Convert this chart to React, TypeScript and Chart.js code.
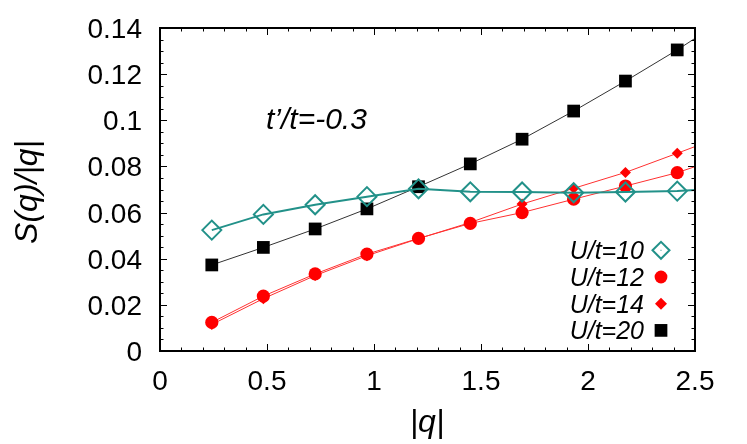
import React, { useEffect, useRef } from "react";
import { Chart, registerables } from "chart.js";

Chart.register(...registerables);

// |q| values of the data points
const Q = [0.242, 0.483, 0.725, 0.967, 1.208, 1.45, 1.692, 1.933, 2.175, 2.417];
// S(q)/|q| for each U/t
const U10 = [0.0524, 0.0592, 0.0634, 0.0669, 0.0703, 0.069, 0.0689, 0.0686, 0.0689, 0.0693];
const U12 = [0.0124, 0.0238, 0.0334, 0.042, 0.0488, 0.0553, 0.06, 0.0658, 0.0715, 0.0773];
const U14 = [0.0115, 0.0227, 0.0327, 0.0413, 0.0487, 0.0557, 0.0637, 0.0705, 0.0774, 0.0857];
const U20 = [0.0373, 0.0449, 0.0529, 0.0616, 0.0712, 0.0811, 0.0918, 0.104, 0.117, 0.1305];
// fitted curves continue to the right edge
const Q_END = 2.5;
const U10_END = 0.0698;
const U12_END = 0.0799;
const U14_END = 0.0886;
const U20_END = 0.1355;

const X_TICKS = [0, 0.5, 1, 1.5, 2, 2.5];
const X_TICK_LABELS = ["0", "0.5", "1", "1.5", "2", "2.5"];
const Y_TICKS = [0, 0.02, 0.04, 0.06, 0.08, 0.1, 0.12, 0.14];
const Y_TICK_LABELS = ["0", "0.02", "0.04", "0.06", "0.08", "0.1", "0.12", "0.14"];
const LEGEND_LABELS = ["U/t=10", "U/t=12", "U/t=14", "U/t=20"];

const TEAL = "#229189";
const RED = "#ff0000";
const BLACK = "#000000";
const FONT = "'Liberation Sans', Arial, Helvetica, sans-serif";

function pts(vals: number[], end: number) {
  const a = Q.map((q, i) => ({ x: q, y: vals[i] }));
  a.push({ x: Q_END, y: end });
  return a;
}
function radii(r: number) {
  const a = Q.map(() => r);
  a.push(0);
  return a;
}

function drawMarker(ctx: CanvasRenderingContext2D, kind: string, x: number, y: number, r: number, color: string) {
  ctx.save();
  ctx.beginPath();
  if (kind === "diamondOpen" || kind === "diamond") {
    ctx.moveTo(x - r, y);
    ctx.lineTo(x, y - r);
    ctx.lineTo(x + r, y);
    ctx.lineTo(x, y + r);
    ctx.closePath();
  } else if (kind === "circle") {
    ctx.arc(x, y, r, 0, Math.PI * 2);
  } else {
    const s = r * Math.SQRT1_2;
    ctx.rect(x - s, y - s, 2 * s, 2 * s);
  }
  if (kind === "diamondOpen") {
    ctx.strokeStyle = color;
    ctx.lineWidth = 2;
    ctx.stroke();
    ctx.fillStyle = color;
    ctx.fillRect(x - 0.5, y - 0.5, 1, 1);
  } else {
    ctx.fillStyle = color;
    ctx.fill();
  }
  ctx.restore();
}

const framePlugin = {
  id: "gnuFrame",
  afterDraw(chart: any) {
    const { ctx, chartArea } = chart;
    const { left, right, top, bottom } = chartArea;
    const xs = chart.scales.x;
    const ys = chart.scales.y;
    ctx.save();
    // ticks (inward, mirrored)
    ctx.strokeStyle = "#000";
    ctx.lineWidth = 1;
    ctx.beginPath();
    for (let i = 0; i <= 25; i++) {
      const v = i * 0.1;
      const px = Math.round(xs.getPixelForValue(v)) + 0.5;
      const len = i % 5 === 0 ? 7 : 3.5;
      ctx.moveTo(px, bottom);
      ctx.lineTo(px, bottom - len);
      ctx.moveTo(px, top);
      ctx.lineTo(px, top + len);
    }
    for (let i = 0; i <= 28; i++) {
      const v = i * 0.005;
      const py = Math.round(ys.getPixelForValue(v)) + 0.5;
      const len = i % 4 === 0 ? 7 : 3.5;
      ctx.moveTo(left, py);
      ctx.lineTo(left + len, py);
      ctx.moveTo(right, py);
      ctx.lineTo(right - len, py);
    }
    ctx.stroke();
    // frame
    ctx.lineWidth = 2;
    ctx.strokeRect(left, top, right - left, bottom - top);

    // tick labels
    ctx.fillStyle = "#000";
    ctx.font = `28px ${FONT}`;
    ctx.textBaseline = "alphabetic";
    ctx.textAlign = "right";
    Y_TICKS.forEach((v, i) => {
      ctx.fillText(Y_TICK_LABELS[i], 142, ys.getPixelForValue(v) + 10);
    });
    ctx.textAlign = "center";
    X_TICKS.forEach((v, i) => {
      ctx.fillText(X_TICK_LABELS[i], xs.getPixelForValue(v), 390);
    });

    // axis titles
    ctx.font = `italic 32px ${FONT}`;
    ctx.textAlign = "center";
    ctx.fillText("|q|", 427, 432);
    ctx.save();
    ctx.translate(37, 192);
    ctx.rotate(-Math.PI / 2);
    ctx.fillText("S(q)/|q|", 0, 0);
    ctx.restore();

    // annotation
    ctx.font = `italic 30px ${FONT}`;
    ctx.textAlign = "left";
    ctx.fillText("t\u2019/t=-0.3", 266, 129);

    // legend
    const rowsY = [250.3, 277, 303.7, 330.4];
    const kinds = ["diamondOpen", "circle", "diamond", "square"];
    const colors = [TEAL, RED, RED, BLACK];
    const sizes = [8.5, 6.4, 6, 9];
    ctx.font = `italic 25px ${FONT}`;
    ctx.textAlign = "right";
    LEGEND_LABELS.forEach((lab, i) => {
      ctx.fillStyle = "#000";
      ctx.fillText(lab, 644, rowsY[i] + 9);
      drawMarker(ctx, kinds[i], 661, rowsY[i], sizes[i], colors[i]);
    });
    ctx.restore();
  },
};

export default function App() {
  const ref = useRef<HTMLCanvasElement | null>(null);
  useEffect(() => {
    document.body.style.margin = "0";
    if (!ref.current) return;
    const chart = new Chart(ref.current, {
      type: "scatter",
      data: {
        datasets: [
          {
            label: LEGEND_LABELS[0],
            data: pts(U10, U10_END),
            showLine: true,
            borderColor: TEAL,
            backgroundColor: "rgba(0,0,0,0)",
            borderWidth: 2,
            pointStyle: "rectRot",
            pointRadius: radii(9.5),
            pointBorderWidth: 2,
            pointBorderColor: TEAL,
            pointBackgroundColor: "rgba(0,0,0,0)",
          },
          {
            label: LEGEND_LABELS[1],
            data: pts(U12, U12_END),
            showLine: true,
            borderColor: "#ff3030",
            borderWidth: 1,
            pointStyle: "circle",
            pointRadius: radii(6.6),
            pointBorderWidth: 0,
            pointBackgroundColor: RED,
          },
          {
            label: LEGEND_LABELS[2],
            data: pts(U14, U14_END),
            showLine: true,
            borderColor: "#ff3030",
            borderWidth: 1,
            pointStyle: "rectRot",
            pointRadius: radii(5.5),
            pointBorderWidth: 0,
            pointBackgroundColor: RED,
          },
          {
            label: LEGEND_LABELS[3],
            data: pts(U20, U20_END),
            showLine: true,
            borderColor: "#333333",
            borderWidth: 1,
            pointStyle: "rect",
            pointRadius: radii(9),
            pointBorderWidth: 0,
            pointBackgroundColor: BLACK,
          },
        ],
      },
      options: {
        animation: false,
        responsive: false,
        layout: { padding: { left: 160, right: 52, top: 28, bottom: 93 } },
        plugins: { legend: { display: false }, tooltip: { enabled: false } },
        scales: {
          x: { type: "linear", min: 0, max: 2.5, display: false },
          y: { type: "linear", min: 0, max: 0.14, display: false },
        },
      },
      plugins: [framePlugin],
    } as any);
    return () => chart.destroy();
  }, []);
  return (
    <div style={{ width: 747, height: 444, background: "#fff" }}>
      <canvas ref={ref} width={747} height={444} />
    </div>
  );
}
